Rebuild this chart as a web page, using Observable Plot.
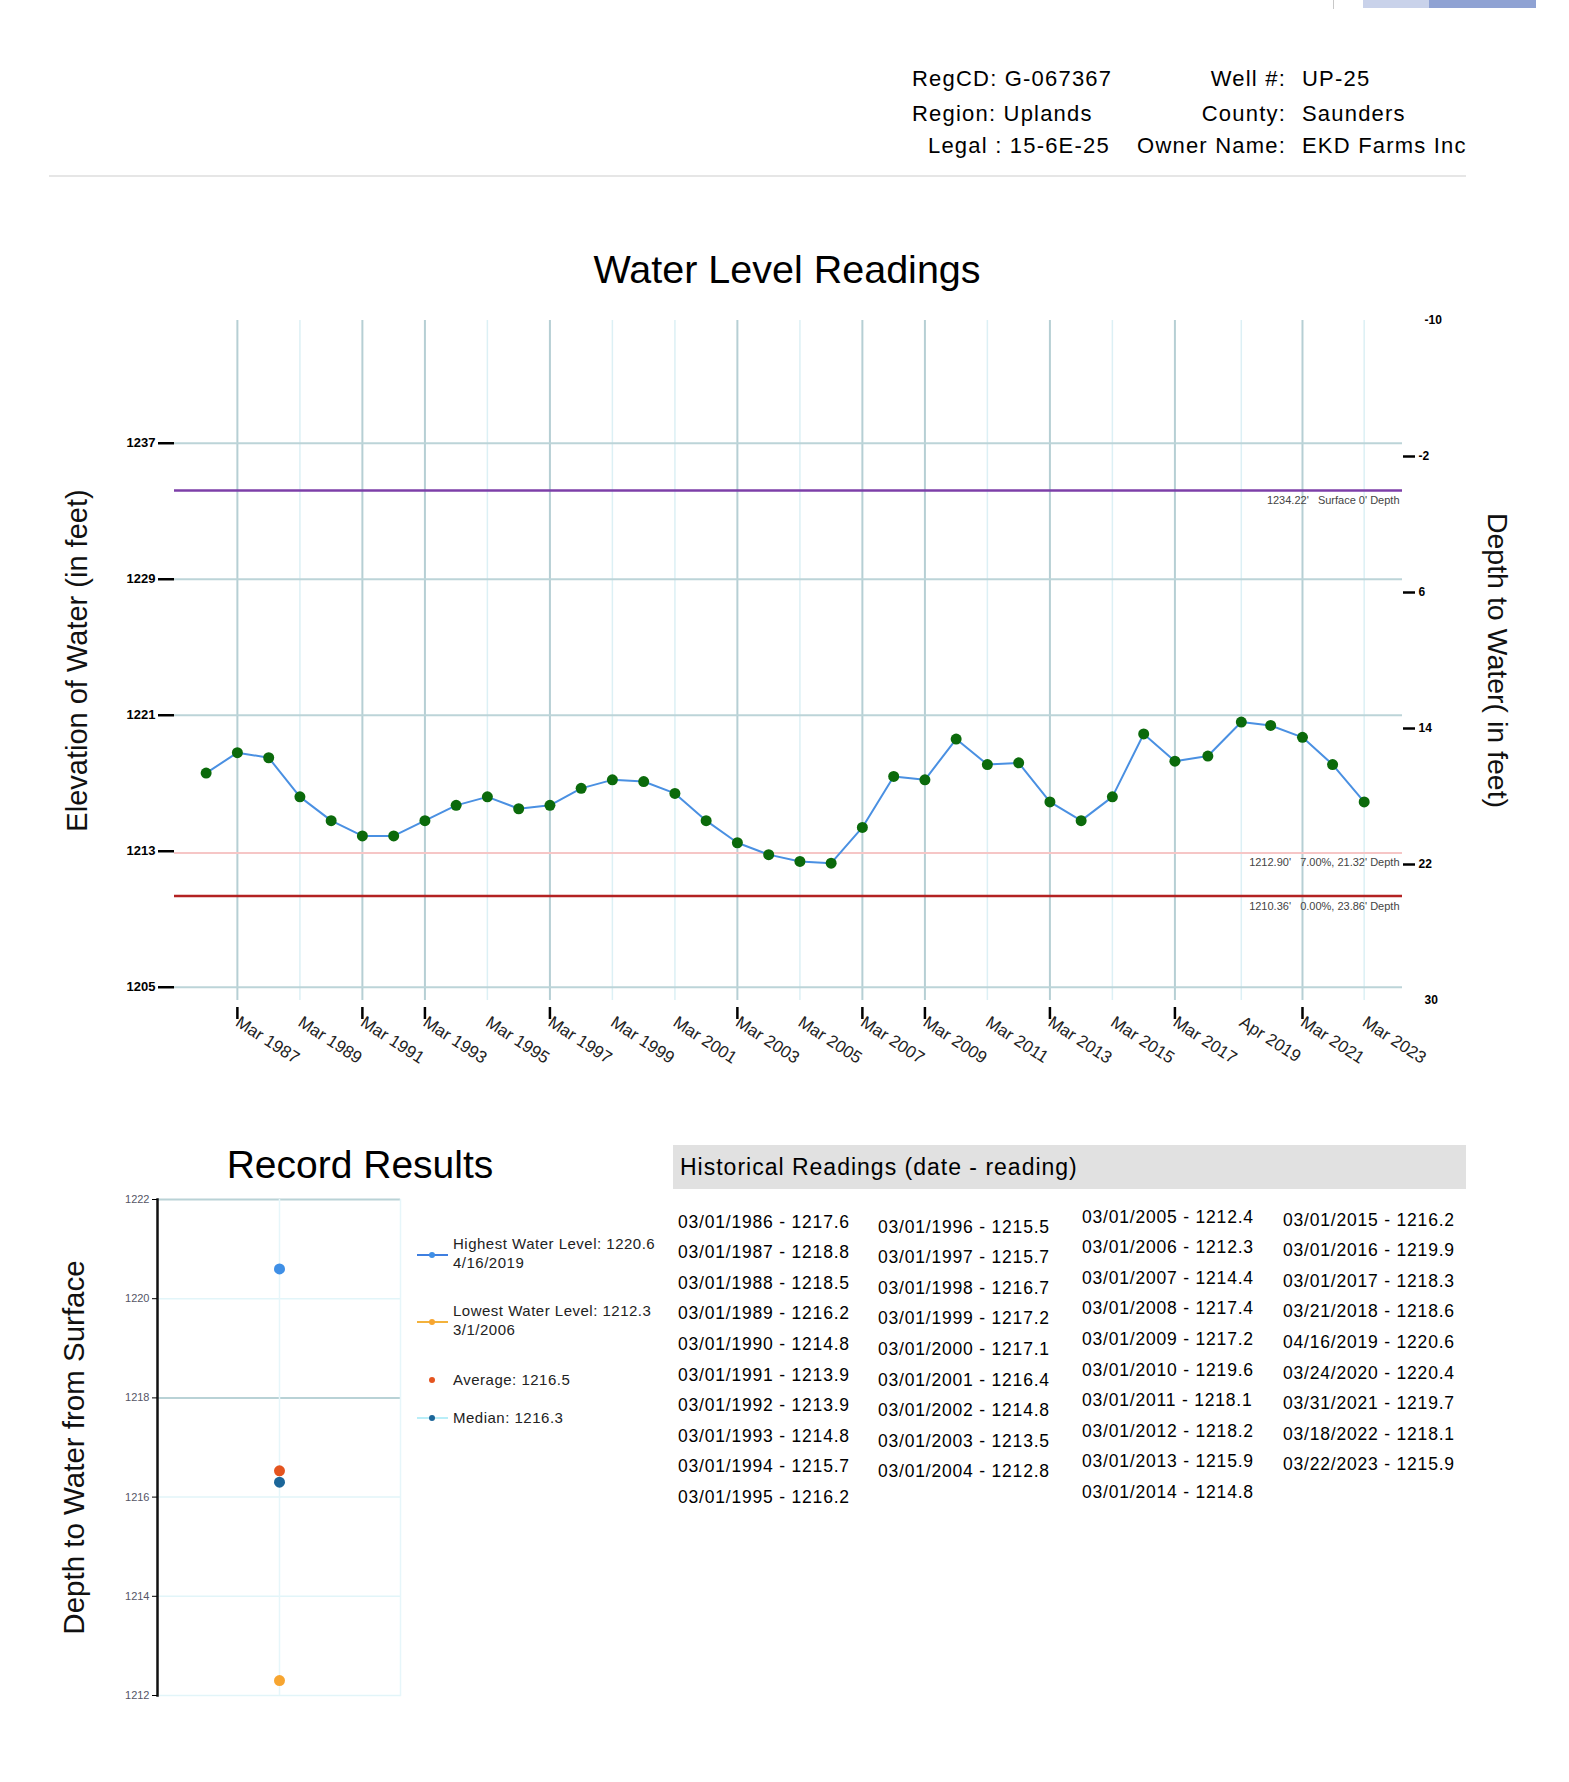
<!DOCTYPE html>
<html><head><meta charset="utf-8">
<script src="https://cdn.jsdelivr.net/npm/d3@7"></script>
<script src="https://cdn.jsdelivr.net/npm/@observablehq/plot@0.6"></script>
<style>
html,body{margin:0;padding:0;background:#fff;}
body{width:1569px;height:1782px;position:relative;overflow:hidden;font-family:"Liberation Sans",Arial,sans-serif;color:#000;}
.abs{position:absolute;white-space:nowrap;}
</style></head><body>
<script>
// ---------------- DATA ----------------
const headerLabelsLeft = ["RegCD:", "Region:", "Legal :"];
const headerValuesLeft = ["G-067367", "Uplands", "15-6E-25"];
const headerLabelsRight = ["Well #:", "County:", "Owner Name:"];
const headerValuesRight = ["UP-25", "Saunders", "EKD Farms Inc"];

const readingDates = [
  "03/01/1986","03/01/1987","03/01/1988","03/01/1989","03/01/1990","03/01/1991","03/01/1992","03/01/1993",
  "03/01/1994","03/01/1995","03/01/1996","03/01/1997","03/01/1998","03/01/1999","03/01/2000","03/01/2001",
  "03/01/2002","03/01/2003","03/01/2004","03/01/2005","03/01/2006","03/01/2007","03/01/2008","03/01/2009",
  "03/01/2010","03/01/2011","03/01/2012","03/01/2013","03/01/2014","03/01/2015","03/01/2016","03/01/2017",
  "03/21/2018","04/16/2019","03/24/2020","03/31/2021","03/18/2022","03/22/2023"];
const readingLevels = [
  1217.6,1218.8,1218.5,1216.2,1214.8,1213.9,1213.9,1214.8,
  1215.7,1216.2,1215.5,1215.7,1216.7,1217.2,1217.1,1216.4,
  1214.8,1213.5,1212.8,1212.4,1212.3,1214.4,1217.4,1217.2,
  1219.6,1218.1,1218.2,1215.9,1214.8,1216.2,1219.9,1218.3,
  1218.6,1220.6,1220.4,1219.7,1218.1,1215.9];

const surfaceElevation = 1234.22;
const refLevels = [1234.22, 1212.90, 1210.36];
const refPercents = ["Surface", "7.00%", "0.00%"];

const elevationTicks = [1205, 1213, 1221, 1229, 1237];
const depthTicks = [-10, -2, 6, 14, 22, 30];
const xTickYears = [1987,1989,1991,1993,1995,1997,1999,2001,2003,2005,2007,2009,2011,2013,2015,2017,2019,2021,2023];
const strongGridYears = [1987,1991,1993,1997,2003,2007,2009,2013,2017,2021];

const recordTicks = [1212, 1214, 1216, 1218, 1220, 1222];
const recordStrongTicks = [1218, 1222];
const recordNames = ["Highest Water Level", "Lowest Water Level", "Average", "Median"];

// ---------------- STYLE ----------------
const FONT = "Liberation Sans, Arial, sans-serif";
const recordColors = ["#3f8fe6", "#f7a530", "#e4541f", "#1c6699"];
const legendLineColors = ["#3f7fe0", "#f3b23c", null, "#b9eef8"];

// ---------------- DERIVED ----------------
const parse = d3.utcParse("%m/%d/%Y");
const readings = readingDates.map((d, i) => ({date: parse(d), label: d, level: readingLevels[i]}));
const tickReadings = readings.filter(r => xTickYears.includes(r.date.getUTCFullYear()));
const strongTickDates = tickReadings.filter(r => strongGridYears.includes(r.date.getUTCFullYear())).map(r => r.date);
const lightTickDates = tickReadings.filter(r => !strongGridYears.includes(r.date.getUTCFullYear())).map(r => r.date);
const depthToElev = d => surfaceElevation - d;
const innerDepthTicks = depthTicks.slice(1, -1);
const outerDepthTicks = [depthTicks[0], depthTicks[depthTicks.length - 1]];

const refRows = refLevels.map((lvl, i) => ({
  level: lvl,
  label: i === 0
    ? `${lvl.toFixed(2)}'   ${refPercents[i]} 0' Depth`
    : `${lvl.toFixed(2)}'   ${refPercents[i]}, ${(surfaceElevation - lvl).toFixed(2)}' Depth`
}));

const hi = d3.greatest(readings, r => r.level);
const lo = d3.least(readings, r => r.level);
const avg = d3.mean(readings, r => r.level);
const med = d3.median(readings, r => r.level);
const mdY = d3.utcFormat("%-m/%-d/%Y");
const recordValues = [hi.level, lo.level, avg, med];
const recordRows = recordValues.map((v, i) => ({name: recordNames[i], value: v, color: recordColors[i]}));
const legendText = [
  [`${recordNames[0]}: ${hi.level.toFixed(1)}`, mdY(hi.date)],
  [`${recordNames[1]}: ${lo.level.toFixed(1)}`, mdY(lo.date)],
  [`${recordNames[2]}: ${avg.toFixed(1)}`],
  [`${recordNames[3]}: ${med.toFixed(1)}`]
];

// ---------------- HELPERS ----------------
function addText(txt, left, centerY, size, opts = {}) {
  const el = document.createElement("div");
  el.className = "abs";
  el.textContent = txt;
  el.style.fontSize = size + "px";
  el.style.lineHeight = Math.round(size * 1.2) + "px";
  el.style.top = (centerY - size * 0.6) + "px";
  if (opts.right != null) { el.style.right = (1569 - opts.right) + "px"; el.style.textAlign = "right"; }
  else if (opts.center) { el.style.left = (left - 400) + "px"; el.style.width = "800px"; el.style.textAlign = "center"; }
  else el.style.left = left + "px";
  if (opts.color) el.style.color = opts.color;
  if (opts.weight) el.style.fontWeight = opts.weight;
  if (opts.spacing) el.style.letterSpacing = opts.spacing + "px";
  document.body.appendChild(el);
  return el;
}
function addBox(left, top, w, h, bg) {
  const el = document.createElement("div");
  el.className = "abs";
  Object.assign(el.style, {left: left + "px", top: top + "px", width: w + "px", height: h + "px", background: bg});
  document.body.appendChild(el);
}

// ---------------- HEADER ----------------
addBox(1333, 0, 1, 9, "#c8c8c8");
addBox(1363, 0, 66, 8, "#c9d2ea");
addBox(1429, 0, 107, 8, "#8fa2d3");
const headerRowsY = [79, 114, 146];
const headerLeftX = [912, 912, 928];
headerLabelsLeft.forEach((l, i) => addText(`${l} ${headerValuesLeft[i]}`, headerLeftX[i], headerRowsY[i], 22, {spacing: 1.2}));
headerLabelsRight.forEach((l, i) => {
  addText(l, 0, headerRowsY[i], 22, {right: 1286, spacing: 1.2});
  addText(headerValuesRight[i], 1302, headerRowsY[i], 22, {spacing: 1.2});
});
addBox(49, 175, 1417, 2, "#e6e6e6");

// ---------------- MAIN CHART ----------------
addText("Water Level Readings", 787, 270, 39.5, {center: true});

const mainPlot = Plot.plot({
  width: 1569, height: 840,
  marginLeft: 174, marginRight: 167, marginTop: 40, marginBottom: 120,
  style: {fontFamily: FONT, background: "transparent", overflow: "visible", color: "#000"},
  x: {type: "utc", domain: [new Date(Date.UTC(1985, 1, 24)), new Date(Date.UTC(2024, 5, 12))]},
  y: {domain: [depthToElev(depthTicks[depthTicks.length - 1]), depthToElev(depthTicks[0])]},
  marks: [
    Plot.ruleX(lightTickDates, {stroke: "#dcf0f5", strokeWidth: 1.5}),
    Plot.ruleX(strongTickDates, {stroke: "#b6cfd4", strokeWidth: 2}),
    Plot.ruleY(elevationTicks.filter(t => Math.abs(t - refLevels[1]) > 0.5), {stroke: "#bcd4d8", strokeWidth: 2}),
    Plot.ruleY([refLevels[1]], {stroke: "#f6c6c6", strokeWidth: 2}),
    Plot.ruleY([refLevels[0]], {stroke: "#7d3fa8", strokeWidth: 2.5}),
    Plot.ruleY([refLevels[2]], {stroke: "#b32222", strokeWidth: 2.5}),
    Plot.text(refRows, {y: "level", text: "label", frameAnchor: "right", textAnchor: "end", dx: -3, dy: 10, fontSize: 11, fill: "#444"}),
    Plot.line(readings, {x: "date", y: "level", stroke: "#4a90e2", strokeWidth: 2}),
    Plot.dot(readings, {x: "date", y: "level", r: 5.5, fill: "#0b6a0b"}),
    Plot.axisY({anchor: "left", ticks: elevationTicks, tickFormat: d => String(d), tickSize: 16, tickPadding: 3,
      fontSize: 13, fontWeight: "bold", strokeWidth: 2.5, label: null}),
    Plot.axisY({anchor: "right", ticks: innerDepthTicks.map(depthToElev),
      tickFormat: v => String(Math.round(surfaceElevation - v)), tickSize: 12, tickPadding: 4,
      fontSize: 12, fontWeight: "bold", strokeWidth: 2.5, label: null}),
    Plot.axisY({anchor: "right", ticks: outerDepthTicks.map(depthToElev),
      tickFormat: v => String(Math.round(surfaceElevation - v)), tickSize: 0, tickPadding: 22,
      fontSize: 12, fontWeight: "bold", label: null}),
    Plot.axisX({ticks: tickReadings.map(r => r.date), tickFormat: d3.utcFormat("%b %Y"), tickSize: 0,
      tickPadding: 20, tickRotate: 33, fontSize: 17, fill: "#222", label: null}),
    Plot.axisX({ticks: strongTickDates, tickFormat: () => "", tickSize: 12, strokeWidth: 2.5, dy: 7, label: null}),
    Plot.text(["Elevation of Water (in feet)"], {frameAnchor: "left", textAnchor: "middle", dx: -97, rotate: -90, fontSize: 29, fill: "#111"}),
    Plot.text(["Depth to Water( in feet)"], {frameAnchor: "right", textAnchor: "middle", dx: 95, rotate: 90, fontSize: 28.5, fill: "#111"})
  ]
});
Object.assign(mainPlot.style, {position: "absolute", left: "0px", top: "280px"});
document.body.appendChild(mainPlot);

// ---------------- RECORD RESULTS ----------------
addText("Record Results", 360, 1164, 39, {center: true});

const recordPlot = Plot.plot({
  width: 420, height: 535,
  marginLeft: 157, marginRight: 20, marginTop: 19, marginBottom: 20,
  style: {fontFamily: FONT, background: "transparent", overflow: "visible"},
  x: {type: "point", domain: ["Record"], axis: null},
  y: {domain: [recordTicks[0], recordTicks[recordTicks.length - 1]], axis: null},
  color: {type: "identity"},
  marks: [
    Plot.ruleY(recordTicks.filter(t => !recordStrongTicks.includes(t)), {stroke: "#e2f5f9", strokeWidth: 1.5}),
    Plot.ruleY(recordStrongTicks, {stroke: "#b9d2d6", strokeWidth: 2}),
    Plot.ruleX(["Record"], {stroke: "#e6f6fa", strokeWidth: 1.5}),
    Plot.frame({anchor: "right", stroke: "#e6f6fa", strokeWidth: 1.5}),
    Plot.frame({anchor: "left", stroke: "#111", strokeWidth: 2.5}),
    Plot.axisY({ticks: recordTicks, tickFormat: d => String(d), tickSize: 5, tickPadding: 3, fontSize: 11, fill: "#556", label: null}),
    Plot.dot(recordRows, {x: () => "Record", y: "value", r: 5.5, fill: "color"}),
    Plot.text(["Depth to Water from Surface"], {frameAnchor: "left", textAnchor: "middle", dx: -83, rotate: -90, fontSize: 29.5, fill: "#111"})
  ]
});
Object.assign(recordPlot.style, {position: "absolute", left: "0px", top: "1180px"});
document.body.appendChild(recordPlot);

// legend
const legendY = [1255, 1322, 1380, 1418];
legendText.forEach((lines, i) => {
  const svgNS = "http://www.w3.org/2000/svg";
  const sw = document.createElementNS(svgNS, "svg");
  sw.setAttribute("width", 34); sw.setAttribute("height", 12);
  Object.assign(sw.style, {position: "absolute", left: "416px", top: (legendY[i] - 6) + "px"});
  if (legendLineColors[i]) {
    const ln = document.createElementNS(svgNS, "line");
    ln.setAttribute("x1", 1); ln.setAttribute("x2", 32); ln.setAttribute("y1", 6); ln.setAttribute("y2", 6);
    ln.setAttribute("stroke", legendLineColors[i]); ln.setAttribute("stroke-width", 2);
    sw.appendChild(ln);
  }
  const c = document.createElementNS(svgNS, "circle");
  c.setAttribute("cx", 16); c.setAttribute("cy", 6); c.setAttribute("r", 3);
  c.setAttribute("fill", recordColors[i]);
  sw.appendChild(c);
  document.body.appendChild(sw);
  if (lines.length === 2) {
    addText(lines[0], 453, legendY[i] - 11, 15, {color: "#222", spacing: 0.5});
    addText(lines[1], 453, legendY[i] + 8, 15, {color: "#222", spacing: 0.5});
  } else {
    addText(lines[0], 453, legendY[i], 15, {color: "#222", spacing: 0.5});
  }
});

// ---------------- HISTORICAL READINGS ----------------
addBox(673, 1145, 793, 44, "#e1e1e1");
addText("Historical Readings (date - reading)", 680, 1167, 23, {spacing: 1});
const columnCounts = [10, 9, 10, 9];
const columnX = [678, 878, 1082, 1283];
const columnTopY = [1222, 1227, 1217, 1220];
let idx = 0;
columnCounts.forEach((n, c) => {
  for (let k = 0; k < n; k++, idx++) {
    const r = readings[idx];
    addText(`${r.label} - ${r.level.toFixed(1)}`, columnX[c], columnTopY[c] + k * 30.6, 17.5, {spacing: 0.8});
  }
});
</script>
</body></html>
